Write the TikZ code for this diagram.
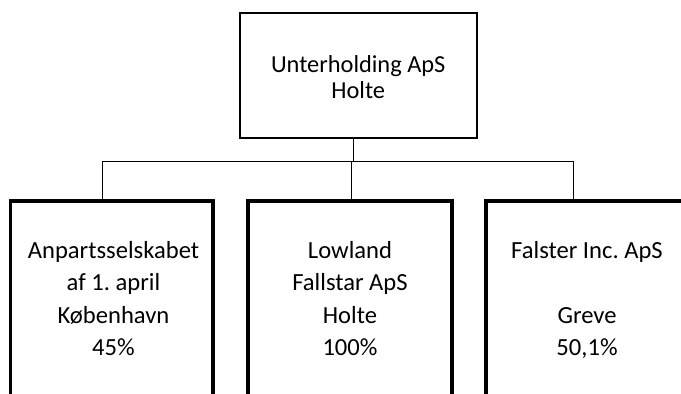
\documentclass[tikz,border=0pt]{standalone}
\usepackage{fontspec}
\setmainfont{Carlito}
\frenchspacing
\begin{document}
\begin{tikzpicture}[x=1pt,y=-1pt,
  topbox/.style={draw, line width=2pt, inner sep=0pt, outer sep=0pt},
  childbox/.style={draw, line width=3.3pt, inner sep=0pt, outer sep=0pt},
  boxtext/.style={align=center, inner sep=0pt, anchor=base, font=\fontsize{24.6}{32.5}\selectfont},
  toptext/.style={align=center, inner sep=0pt, anchor=base, font=\fontsize{24.4}{26}\selectfont},
  link/.style={line width=1pt}]
\useasboundingbox (0,0) rectangle (681,394);
\clip (0,0) rectangle (681,394);
% boxes
\node[topbox, minimum width=237.5pt, minimum height=125pt] (top) at (358.25,75) {};
\node[childbox, minimum width=202.5pt, minimum height=229pt] (left) at (111.75,315.5) {};
\node[childbox, minimum width=204pt, minimum height=229pt] (mid) at (350,315.5) {};
\node[childbox, minimum width=204pt, minimum height=229pt] (right) at (588,315.5) {};
% texts (anchor base = baseline of the last line)
\node[toptext] (toplbl) at (358.25,98.3) {Unterholding ApS\\Holte};
\node[boxtext] (leftlbl) at (113.5,355.5) {Anpartsselskabet\\af 1. april\\København\\45\%};
\node[boxtext] (midlbl) at (350,355.5) {Lowland\\Fallstar ApS\\Holte\\100\%};
\node[boxtext] (rightlbl) at (587,355.5) {Falster Inc. ApS\\\mbox{}\\Greve\\50,1\%};
% connectors
\coordinate (busL) at (102,161.7);
\coordinate (busR) at (573,161.7);
\draw[link] ([xshift=-5pt]top.south) -- ([xshift=-5pt]top.south |- busL);
\draw[link] (left.north -| busL) -- (busL) -- (busR) -- (right.north -| busR);
\draw[link] ([xshift=1.7pt]mid.north) -- ([xshift=1.7pt]mid.north |- busL);
\end{tikzpicture}
\end{document}
